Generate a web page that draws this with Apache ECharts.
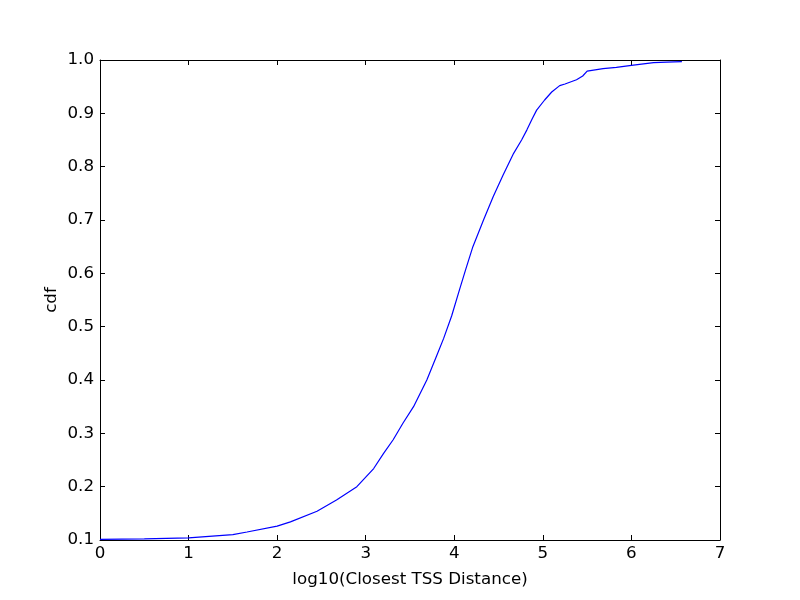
<!DOCTYPE html>
<html>
<head>
<meta charset="utf-8">
<script src="https://cdn.jsdelivr.net/npm/echarts@6/dist/echarts.min.js"></script>
<style>
  html, body { margin: 0; padding: 0; background: #fff; }
  #chart { width: 800px; height: 600px; }
</style>
</head>
<body>
<div id="chart"></div>
<script>
// log10 distance values
var logDist = [0, 0.5, 1.0, 1.5, 1.66, 2.0, 2.15, 2.45, 2.67, 2.90, 3.09, 3.2, 3.31, 3.42,
  3.54, 3.69, 3.80, 3.88, 3.97, 4.06, 4.13, 4.21, 4.33, 4.44, 4.55, 4.67, 4.76, 4.82, 4.88, 4.93,
  5.02, 5.10, 5.19, 5.25, 5.38, 5.45, 5.50, 5.68, 5.83, 6.0, 6.25, 6.40, 6.57];
var cdf = [0.101, 0.102, 0.104, 0.110, 0.115, 0.126, 0.134, 0.154, 0.175, 0.200, 0.234, 0.262, 0.288, 0.319,
  0.350, 0.400, 0.445, 0.478, 0.520, 0.570, 0.608, 0.650, 0.700, 0.744, 0.784, 0.825, 0.850, 0.869, 0.890, 0.906,
  0.925, 0.940, 0.952, 0.955, 0.963, 0.970, 0.979, 0.984, 0.986, 0.990, 0.995, 0.996, 0.997];

var xTicks = [0, 1, 2, 3, 4, 5, 6, 7];
var yTicks = [0.1, 0.2, 0.3, 0.4, 0.5, 0.6, 0.7, 0.8, 0.9, 1.0];

var points = logDist.map(function (x, i) { return [x, cdf[i]]; });

var chart = echarts.init(document.getElementById('chart'));
var font = 'DejaVu Sans';
var fs = 16.7;
var axisLine = { show: true, onZero: false, lineStyle: { color: '#000', width: 1 } };
var ticks = { show: true, inside: true, length: 5, lineStyle: { color: '#000' } };

var option = {
  animation: false,
  grid: { left: 100, right: 80, top: 60, bottom: 60, containLabel: false },
  xAxis: [{
    type: 'value', min: 0, max: 7, interval: 1, position: 'bottom',
    axisLine: axisLine, axisTick: ticks, splitLine: { show: false },
    axisLabel: { color: '#000', fontFamily: font, fontSize: fs, margin: 5,
      formatter: function (v) { return xTicks.indexOf(v) >= 0 ? String(v) : ''; } },
    name: 'log10(Closest TSS Distance)', nameLocation: 'middle', nameGap: 31,
    nameMoveOverlap: false,
    nameTextStyle: { color: '#000', fontFamily: font, fontSize: fs }
  }, {
    type: 'value', min: 0, max: 7, interval: 1, position: 'top',
    axisLine: axisLine, axisTick: ticks, axisLabel: { show: false }, splitLine: { show: false }
  }],
  yAxis: [{
    type: 'value', min: 0.1, max: 1.0, interval: 0.1, position: 'left',
    axisLine: axisLine, axisTick: ticks, splitLine: { show: false },
    axisLabel: { color: '#000', fontFamily: font, fontSize: fs, margin: 6,
      formatter: function (v) { return v.toFixed(1); } },
    name: 'cdf', nameLocation: 'middle', nameGap: 40,
    nameMoveOverlap: false,
    nameTextStyle: { color: '#000', fontFamily: font, fontSize: fs }
  }, {
    type: 'value', min: 0.1, max: 1.0, interval: 0.1, position: 'right',
    axisLine: axisLine, axisTick: ticks, axisLabel: { show: false }, splitLine: { show: false }
  }],
  series: [{
    type: 'line',
    data: points,
    showSymbol: false,
    smooth: false,
    lineStyle: { color: '#0000ff', width: 1.2 },
    z: 1
  }]
};
chart.setOption(option);
</script>
</body>
</html>
